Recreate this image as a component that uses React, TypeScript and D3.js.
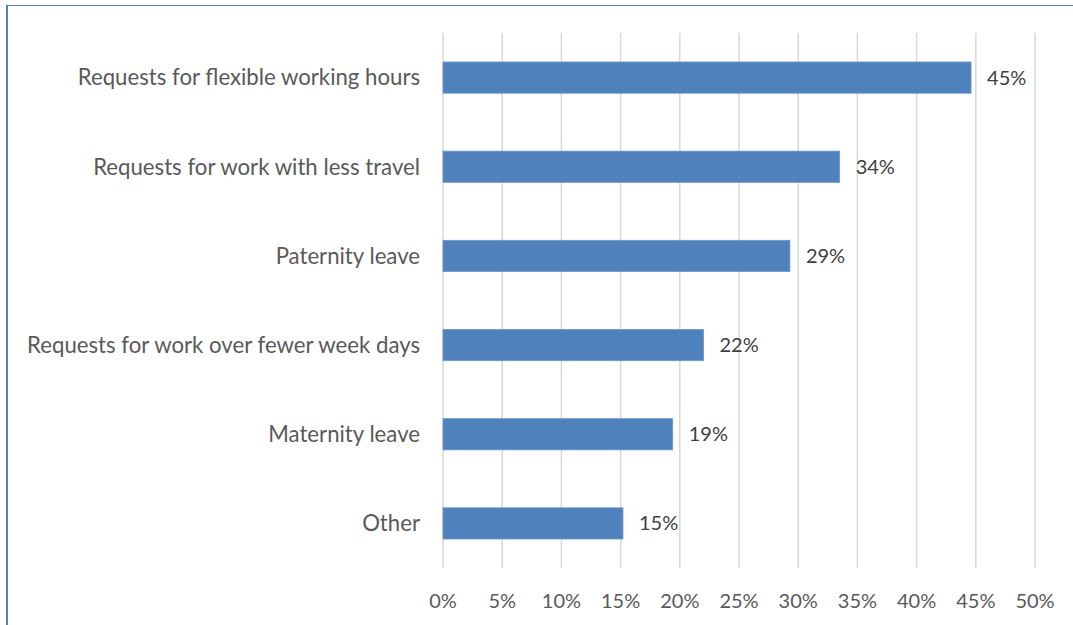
import React from "react";
import * as d3 from "d3";

const categories = [
  "Requests for flexible working hours",
  "Requests for work with less travel",
  "Paternity leave",
  "Requests for work over fewer week days",
  "Maternity leave",
  "Other",
];
const values = [44.6, 33.5, 29.3, 22.0, 19.4, 15.2];
const labels = ["45%", "34%", "29%", "22%", "19%", "15%"];
const ticks = [0, 5, 10, 15, 20, 25, 30, 35, 40, 45, 50];

const W = 1073;
const H = 625;
const FONT = "Lato, 'Open Sans', sans-serif";
const FS = 20;

export default function App() {
  const x = d3.scaleLinear().domain([0, 50]).range([443, 1035]);
  const y = d3.scaleBand<string>().domain(categories).range([33, 568]).paddingInner(0.65).paddingOuter(0.325);
  return (
    <svg width={W} height={H} style={{ position: "absolute", left: 0, top: 0, background: "#fff" }}>
      <line x1={7} x2={W} y1={5.5} y2={5.5} stroke="#4f81bd" strokeWidth={1.2} />
      <line x1={7} x2={7} y1={5} y2={H} stroke="#4f81bd" strokeWidth={2} />
      {ticks.map((t) => (
        <g key={t}>
          <line x1={x(t)} x2={x(t)} y1={33} y2={568} stroke="#d9d9d9" strokeWidth={1.5} />
          <text x={x(t)} y={601} dy="0.35em" textAnchor="middle" fontFamily={FONT} fontSize={FS} fill="#595959">
            {t}%
          </text>
        </g>
      ))}
      {categories.map((c, i) => {
        const yy = y(c)!;
        const bh = y.bandwidth();
        return (
          <g key={c}>
            <rect x={x(0)} y={yy} width={x(values[i]) - x(0)} height={bh} fill="#4f81bd" stroke="#6f96c8" strokeWidth={0.8} />
            <text x={420} y={yy + bh / 2} dy="0.35em" textAnchor="end" fontFamily={FONT} fontSize={22.2} fill="#595959">
              {c}
            </text>
            <text x={x(values[i]) + 16} y={yy + bh / 2} dy="0.35em" fontFamily={FONT} fontSize={FS} fill="#404040">
              {labels[i]}
            </text>
          </g>
        );
      })}
    </svg>
  );
}
